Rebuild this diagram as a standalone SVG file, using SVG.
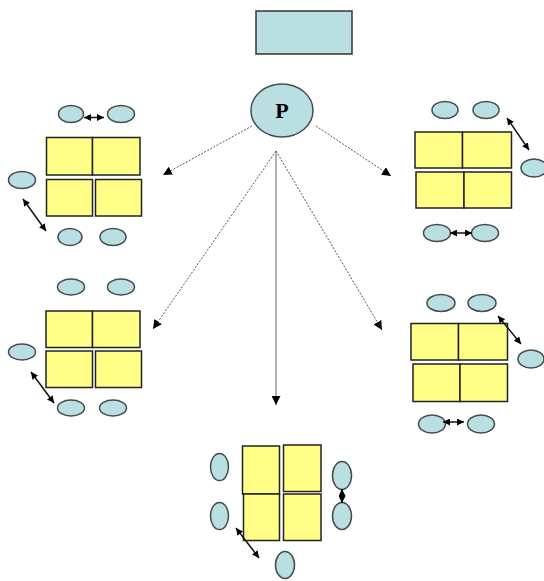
<svg xmlns="http://www.w3.org/2000/svg" width="544" height="581" viewBox="0 0 544 581">
  <style>
    .seat { fill: #b9dfe2; stroke: #444c4c; stroke-width: 1.5; }
    .desk { fill: #ffff88; stroke: #222; stroke-width: 1.5; }
    .board { fill: #b9dfe2; stroke: #333; stroke-width: 1.5; }
    .link { stroke: #555; stroke-width: 1; fill: none; stroke-dasharray: 2 1.5; marker-end: url(#tip); }
    .link.solid { stroke-dasharray: none; stroke: #666; }
    .swap { stroke: #111; stroke-width: 1.5; fill: none; marker-start: url(#both); marker-end: url(#both); }
    .label { font-family: "Liberation Serif", serif; font-weight: bold; font-size: 22px; fill: #000; }
  </style>
  <defs>
    <marker id="tip" viewBox="0 0 10 10" refX="10" refY="5" markerWidth="9" markerHeight="9" markerUnits="userSpaceOnUse" orient="auto">
      <path d="M0,0 L10,5 L0,10 Z" fill="#000"/>
    </marker>
    <marker id="both" viewBox="0 0 10 10" refX="10" refY="5" markerWidth="7" markerHeight="7" markerUnits="userSpaceOnUse" orient="auto-start-reverse">
      <path d="M0,0 L10,5 L0,10 Z" fill="#000"/>
    </marker>
  </defs>

  <!-- board -->
  <g id="board">
    <rect class="board" x="256" y="11" width="96" height="43"/>
  </g>

  <!-- teacher -->
  <g id="teacher">
    <ellipse class="seat" cx="282" cy="110.5" rx="31" ry="26.5"/>
    <text class="label" x="282" y="118" text-anchor="middle">P</text>
  </g>

  <!-- connectors from the teacher to each group -->
  <g id="connectors">
    <line class="link" x1="252" y1="126" x2="163" y2="175"/>
    <line class="link" x1="316" y1="126" x2="391" y2="176"/>
    <line class="link" x1="276" y1="151" x2="153" y2="329"/>
    <line class="link solid" x1="276" y1="151" x2="276" y2="405"/>
    <line class="link" x1="276" y1="151" x2="382" y2="330"/>
  </g>

  <!-- group 1: top left -->
  <g id="group1">
    <rect class="desk" x="46.5" y="137.5" width="46" height="37.5"/>
    <rect class="desk" x="92.5" y="137.5" width="47.5" height="37.5"/>
    <rect class="desk" x="46.5" y="179.5" width="46" height="36.5"/>
    <rect class="desk" x="95.5" y="179.5" width="46" height="36.5"/>
    <ellipse class="seat" cx="71" cy="114" rx="12.5" ry="8.5"/>
    <ellipse class="seat" cx="121" cy="114" rx="13.5" ry="8.5"/>
    <ellipse class="seat" cx="22" cy="180" rx="13.5" ry="8.5"/>
    <ellipse class="seat" cx="70" cy="237" rx="12" ry="8.5"/>
    <ellipse class="seat" cx="113" cy="237" rx="13" ry="8.5"/>
    <line class="swap" x1="84" y1="117.5" x2="104" y2="117.5"/>
    <line class="swap" x1="23" y1="199" x2="46" y2="231"/>
  </g>

  <!-- group 2: top right -->
  <g id="group2">
    <rect class="desk" x="415" y="132" width="47.5" height="36"/>
    <rect class="desk" x="462.5" y="132" width="49" height="36"/>
    <rect class="desk" x="416" y="172" width="48" height="36"/>
    <rect class="desk" x="464" y="172" width="47.5" height="36"/>
    <ellipse class="seat" cx="445" cy="110" rx="13" ry="8.5"/>
    <ellipse class="seat" cx="486" cy="110" rx="13" ry="8.5"/>
    <ellipse class="seat" cx="534" cy="168" rx="13" ry="9"/>
    <ellipse class="seat" cx="437" cy="233" rx="13.5" ry="8.5"/>
    <ellipse class="seat" cx="485" cy="233" rx="13.5" ry="8.5"/>
    <line class="swap" x1="507" y1="118" x2="529" y2="150"/>
    <line class="swap" x1="450" y1="233" x2="472" y2="233"/>
  </g>

  <!-- group 3: middle left -->
  <g id="group3">
    <rect class="desk" x="46" y="311" width="46.5" height="36.5"/>
    <rect class="desk" x="92.5" y="311" width="47.5" height="36.5"/>
    <rect class="desk" x="46" y="351" width="46.5" height="36.5"/>
    <rect class="desk" x="95.5" y="351" width="46" height="36.5"/>
    <ellipse class="seat" cx="71" cy="287" rx="13.5" ry="8"/>
    <ellipse class="seat" cx="121" cy="287" rx="13.5" ry="8"/>
    <ellipse class="seat" cx="22" cy="352" rx="13.5" ry="8"/>
    <ellipse class="seat" cx="71" cy="408" rx="13.5" ry="8"/>
    <ellipse class="seat" cx="113" cy="408" rx="13.5" ry="8"/>
    <line class="swap" x1="31" y1="372" x2="54" y2="403"/>
  </g>

  <!-- group 4: middle right -->
  <g id="group4">
    <rect class="desk" x="411" y="323.5" width="47.5" height="36.5"/>
    <rect class="desk" x="458.5" y="323.5" width="49" height="36.5"/>
    <rect class="desk" x="413" y="364" width="47" height="37.5"/>
    <rect class="desk" x="460" y="364" width="47.5" height="37.5"/>
    <ellipse class="seat" cx="441" cy="303" rx="14" ry="8.5"/>
    <ellipse class="seat" cx="482" cy="303" rx="14" ry="8.5"/>
    <ellipse class="seat" cx="531" cy="359" rx="13" ry="9"/>
    <ellipse class="seat" cx="432" cy="424" rx="13.5" ry="9"/>
    <ellipse class="seat" cx="481" cy="424" rx="13.5" ry="9"/>
    <line class="swap" x1="498" y1="316" x2="521" y2="344"/>
    <line class="swap" x1="443" y1="422" x2="464" y2="422"/>
  </g>

  <!-- group 5: bottom -->
  <g id="group5">
    <rect class="desk" x="242.5" y="446" width="37" height="48"/>
    <rect class="desk" x="283.5" y="445" width="37.5" height="46.5"/>
    <rect class="desk" x="243.5" y="494" width="36" height="46.5"/>
    <rect class="desk" x="283.5" y="494" width="37.5" height="46.5"/>
    <ellipse class="seat" cx="219.5" cy="467" rx="9" ry="13.5"/>
    <ellipse class="seat" cx="219.5" cy="516" rx="9" ry="13.5"/>
    <ellipse class="seat" cx="342" cy="475.5" rx="9.5" ry="14"/>
    <ellipse class="seat" cx="342" cy="516" rx="9.5" ry="13.5"/>
    <ellipse class="seat" cx="285" cy="565" rx="9.5" ry="13.5"/>
    <line class="swap" x1="342" y1="489" x2="342" y2="503"/>
    <line class="swap" x1="236" y1="528" x2="259" y2="558"/>
  </g>
</svg>
